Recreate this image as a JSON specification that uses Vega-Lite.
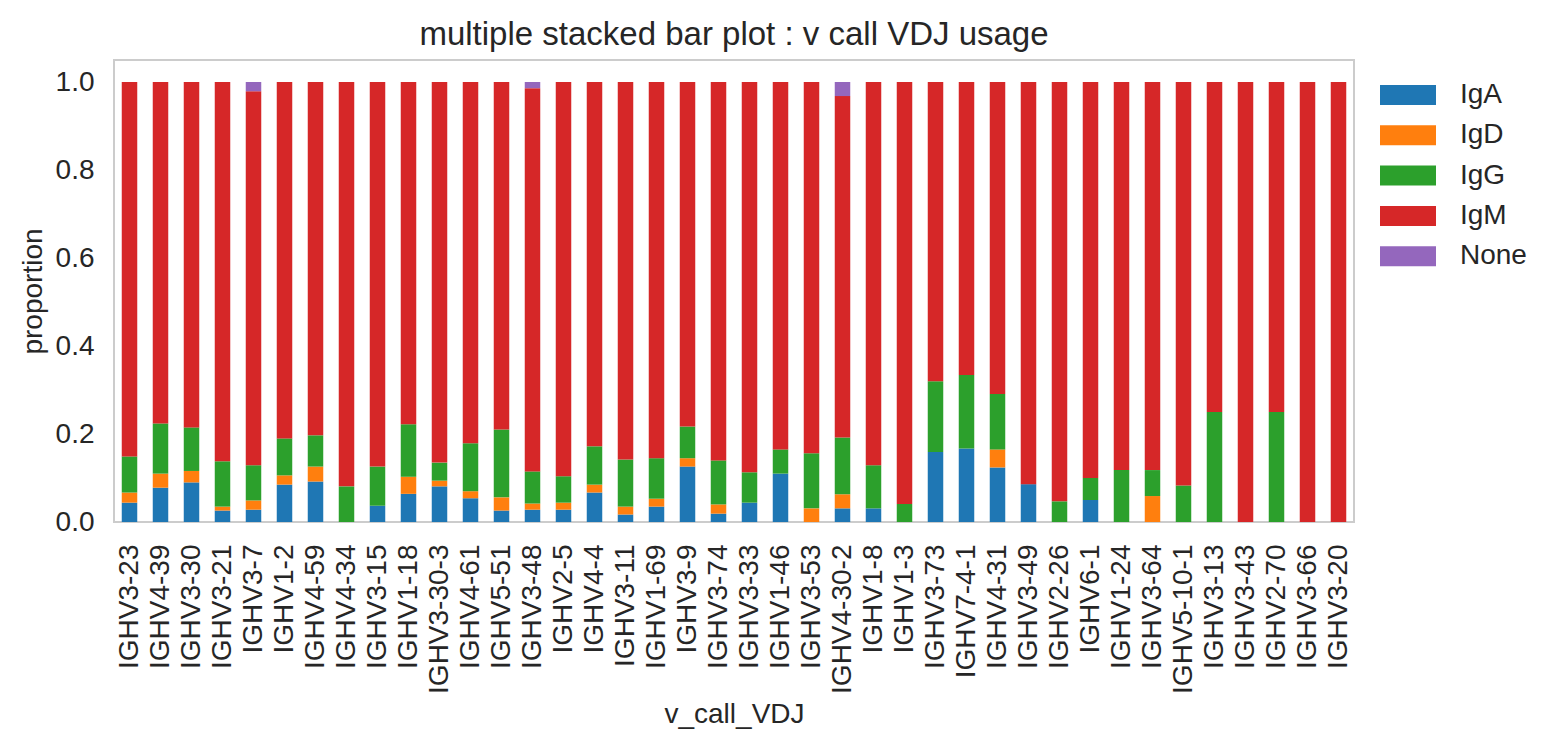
{
  "$schema": "https://vega.github.io/schema/vega-lite/v6.json",
  "width": 1240,
  "height": 462,
  "autosize": {"type": "none"},
  "padding": {"left": 114, "top": 60, "right": 201, "bottom": 225},
  "background": "white",
  "title": {
    "text": "multiple stacked bar plot : v call VDJ usage",
    "fontSize": 33,
    "font": "Liberation Sans",
    "fontWeight": "normal",
    "color": "#262626",
    "offset": 8,
    "anchor": "middle"
  },
  "config": {
    "font": "Liberation Sans",
    "view": {"stroke": "#cccccc", "strokeWidth": 2},
    "axis": {
      "labelFont": "Liberation Sans",
      "titleFont": "Liberation Sans",
      "labelColor": "#262626",
      "titleColor": "#262626",
      "labelFontSize": 28,
      "titleFontSize": 28,
      "titleFontWeight": "normal",
      "grid": false,
      "ticks": false,
      "domain": false
    },
    "legend": {
      "labelFont": "Liberation Sans",
      "labelFontSize": 28,
      "labelColor": "#262626"
    }
  },
  "data": {
    "values": [
      {"v_call_VDJ": "IGHV3-23", "isotype": "IgA", "proportion": 0.044},
      {"v_call_VDJ": "IGHV3-23", "isotype": "IgD", "proportion": 0.023},
      {"v_call_VDJ": "IGHV3-23", "isotype": "IgG", "proportion": 0.082},
      {"v_call_VDJ": "IGHV3-23", "isotype": "IgM", "proportion": 0.851},
      {"v_call_VDJ": "IGHV4-39", "isotype": "IgA", "proportion": 0.078},
      {"v_call_VDJ": "IGHV4-39", "isotype": "IgD", "proportion": 0.032},
      {"v_call_VDJ": "IGHV4-39", "isotype": "IgG", "proportion": 0.114},
      {"v_call_VDJ": "IGHV4-39", "isotype": "IgM", "proportion": 0.776},
      {"v_call_VDJ": "IGHV3-30", "isotype": "IgA", "proportion": 0.090},
      {"v_call_VDJ": "IGHV3-30", "isotype": "IgD", "proportion": 0.026},
      {"v_call_VDJ": "IGHV3-30", "isotype": "IgG", "proportion": 0.099},
      {"v_call_VDJ": "IGHV3-30", "isotype": "IgM", "proportion": 0.785},
      {"v_call_VDJ": "IGHV3-21", "isotype": "IgA", "proportion": 0.026},
      {"v_call_VDJ": "IGHV3-21", "isotype": "IgD", "proportion": 0.009},
      {"v_call_VDJ": "IGHV3-21", "isotype": "IgG", "proportion": 0.103},
      {"v_call_VDJ": "IGHV3-21", "isotype": "IgM", "proportion": 0.862},
      {"v_call_VDJ": "IGHV3-7", "isotype": "IgA", "proportion": 0.028},
      {"v_call_VDJ": "IGHV3-7", "isotype": "IgD", "proportion": 0.021},
      {"v_call_VDJ": "IGHV3-7", "isotype": "IgG", "proportion": 0.080},
      {"v_call_VDJ": "IGHV3-7", "isotype": "IgM", "proportion": 0.850},
      {"v_call_VDJ": "IGHV3-7", "isotype": "None", "proportion": 0.021},
      {"v_call_VDJ": "IGHV1-2", "isotype": "IgA", "proportion": 0.085},
      {"v_call_VDJ": "IGHV1-2", "isotype": "IgD", "proportion": 0.021},
      {"v_call_VDJ": "IGHV1-2", "isotype": "IgG", "proportion": 0.084},
      {"v_call_VDJ": "IGHV1-2", "isotype": "IgM", "proportion": 0.810},
      {"v_call_VDJ": "IGHV4-59", "isotype": "IgA", "proportion": 0.092},
      {"v_call_VDJ": "IGHV4-59", "isotype": "IgD", "proportion": 0.034},
      {"v_call_VDJ": "IGHV4-59", "isotype": "IgG", "proportion": 0.071},
      {"v_call_VDJ": "IGHV4-59", "isotype": "IgM", "proportion": 0.803},
      {"v_call_VDJ": "IGHV4-34", "isotype": "IgG", "proportion": 0.081},
      {"v_call_VDJ": "IGHV4-34", "isotype": "IgM", "proportion": 0.919},
      {"v_call_VDJ": "IGHV3-15", "isotype": "IgA", "proportion": 0.037},
      {"v_call_VDJ": "IGHV3-15", "isotype": "IgG", "proportion": 0.089},
      {"v_call_VDJ": "IGHV3-15", "isotype": "IgM", "proportion": 0.874},
      {"v_call_VDJ": "IGHV1-18", "isotype": "IgA", "proportion": 0.064},
      {"v_call_VDJ": "IGHV1-18", "isotype": "IgD", "proportion": 0.039},
      {"v_call_VDJ": "IGHV1-18", "isotype": "IgG", "proportion": 0.119},
      {"v_call_VDJ": "IGHV1-18", "isotype": "IgM", "proportion": 0.778},
      {"v_call_VDJ": "IGHV3-30-3", "isotype": "IgA", "proportion": 0.081},
      {"v_call_VDJ": "IGHV3-30-3", "isotype": "IgD", "proportion": 0.013},
      {"v_call_VDJ": "IGHV3-30-3", "isotype": "IgG", "proportion": 0.041},
      {"v_call_VDJ": "IGHV3-30-3", "isotype": "IgM", "proportion": 0.865},
      {"v_call_VDJ": "IGHV4-61", "isotype": "IgA", "proportion": 0.054},
      {"v_call_VDJ": "IGHV4-61", "isotype": "IgD", "proportion": 0.016},
      {"v_call_VDJ": "IGHV4-61", "isotype": "IgG", "proportion": 0.109},
      {"v_call_VDJ": "IGHV4-61", "isotype": "IgM", "proportion": 0.821},
      {"v_call_VDJ": "IGHV5-51", "isotype": "IgA", "proportion": 0.026},
      {"v_call_VDJ": "IGHV5-51", "isotype": "IgD", "proportion": 0.030},
      {"v_call_VDJ": "IGHV5-51", "isotype": "IgG", "proportion": 0.154},
      {"v_call_VDJ": "IGHV5-51", "isotype": "IgM", "proportion": 0.790},
      {"v_call_VDJ": "IGHV3-48", "isotype": "IgA", "proportion": 0.028},
      {"v_call_VDJ": "IGHV3-48", "isotype": "IgD", "proportion": 0.014},
      {"v_call_VDJ": "IGHV3-48", "isotype": "IgG", "proportion": 0.073},
      {"v_call_VDJ": "IGHV3-48", "isotype": "IgM", "proportion": 0.871},
      {"v_call_VDJ": "IGHV3-48", "isotype": "None", "proportion": 0.014},
      {"v_call_VDJ": "IGHV2-5", "isotype": "IgA", "proportion": 0.028},
      {"v_call_VDJ": "IGHV2-5", "isotype": "IgD", "proportion": 0.016},
      {"v_call_VDJ": "IGHV2-5", "isotype": "IgG", "proportion": 0.060},
      {"v_call_VDJ": "IGHV2-5", "isotype": "IgM", "proportion": 0.896},
      {"v_call_VDJ": "IGHV4-4", "isotype": "IgA", "proportion": 0.067},
      {"v_call_VDJ": "IGHV4-4", "isotype": "IgD", "proportion": 0.018},
      {"v_call_VDJ": "IGHV4-4", "isotype": "IgG", "proportion": 0.087},
      {"v_call_VDJ": "IGHV4-4", "isotype": "IgM", "proportion": 0.828},
      {"v_call_VDJ": "IGHV3-11", "isotype": "IgA", "proportion": 0.017},
      {"v_call_VDJ": "IGHV3-11", "isotype": "IgD", "proportion": 0.018},
      {"v_call_VDJ": "IGHV3-11", "isotype": "IgG", "proportion": 0.107},
      {"v_call_VDJ": "IGHV3-11", "isotype": "IgM", "proportion": 0.858},
      {"v_call_VDJ": "IGHV1-69", "isotype": "IgA", "proportion": 0.035},
      {"v_call_VDJ": "IGHV1-69", "isotype": "IgD", "proportion": 0.018},
      {"v_call_VDJ": "IGHV1-69", "isotype": "IgG", "proportion": 0.092},
      {"v_call_VDJ": "IGHV1-69", "isotype": "IgM", "proportion": 0.855},
      {"v_call_VDJ": "IGHV3-9", "isotype": "IgA", "proportion": 0.126},
      {"v_call_VDJ": "IGHV3-9", "isotype": "IgD", "proportion": 0.019},
      {"v_call_VDJ": "IGHV3-9", "isotype": "IgG", "proportion": 0.072},
      {"v_call_VDJ": "IGHV3-9", "isotype": "IgM", "proportion": 0.783},
      {"v_call_VDJ": "IGHV3-74", "isotype": "IgA", "proportion": 0.019},
      {"v_call_VDJ": "IGHV3-74", "isotype": "IgD", "proportion": 0.021},
      {"v_call_VDJ": "IGHV3-74", "isotype": "IgG", "proportion": 0.100},
      {"v_call_VDJ": "IGHV3-74", "isotype": "IgM", "proportion": 0.860},
      {"v_call_VDJ": "IGHV3-33", "isotype": "IgA", "proportion": 0.044},
      {"v_call_VDJ": "IGHV3-33", "isotype": "IgG", "proportion": 0.069},
      {"v_call_VDJ": "IGHV3-33", "isotype": "IgM", "proportion": 0.887},
      {"v_call_VDJ": "IGHV1-46", "isotype": "IgA", "proportion": 0.110},
      {"v_call_VDJ": "IGHV1-46", "isotype": "IgG", "proportion": 0.055},
      {"v_call_VDJ": "IGHV1-46", "isotype": "IgM", "proportion": 0.835},
      {"v_call_VDJ": "IGHV3-53", "isotype": "IgD", "proportion": 0.031},
      {"v_call_VDJ": "IGHV3-53", "isotype": "IgG", "proportion": 0.125},
      {"v_call_VDJ": "IGHV3-53", "isotype": "IgM", "proportion": 0.844},
      {"v_call_VDJ": "IGHV4-30-2", "isotype": "IgA", "proportion": 0.031},
      {"v_call_VDJ": "IGHV4-30-2", "isotype": "IgD", "proportion": 0.032},
      {"v_call_VDJ": "IGHV4-30-2", "isotype": "IgG", "proportion": 0.129},
      {"v_call_VDJ": "IGHV4-30-2", "isotype": "IgM", "proportion": 0.776},
      {"v_call_VDJ": "IGHV4-30-2", "isotype": "None", "proportion": 0.032},
      {"v_call_VDJ": "IGHV1-8", "isotype": "IgA", "proportion": 0.031},
      {"v_call_VDJ": "IGHV1-8", "isotype": "IgG", "proportion": 0.098},
      {"v_call_VDJ": "IGHV1-8", "isotype": "IgM", "proportion": 0.871},
      {"v_call_VDJ": "IGHV1-3", "isotype": "IgG", "proportion": 0.041},
      {"v_call_VDJ": "IGHV1-3", "isotype": "IgM", "proportion": 0.959},
      {"v_call_VDJ": "IGHV3-73", "isotype": "IgA", "proportion": 0.159},
      {"v_call_VDJ": "IGHV3-73", "isotype": "IgG", "proportion": 0.161},
      {"v_call_VDJ": "IGHV3-73", "isotype": "IgM", "proportion": 0.680},
      {"v_call_VDJ": "IGHV7-4-1", "isotype": "IgA", "proportion": 0.167},
      {"v_call_VDJ": "IGHV7-4-1", "isotype": "IgG", "proportion": 0.167},
      {"v_call_VDJ": "IGHV7-4-1", "isotype": "IgM", "proportion": 0.666},
      {"v_call_VDJ": "IGHV4-31", "isotype": "IgA", "proportion": 0.124},
      {"v_call_VDJ": "IGHV4-31", "isotype": "IgD", "proportion": 0.041},
      {"v_call_VDJ": "IGHV4-31", "isotype": "IgG", "proportion": 0.126},
      {"v_call_VDJ": "IGHV4-31", "isotype": "IgM", "proportion": 0.709},
      {"v_call_VDJ": "IGHV3-49", "isotype": "IgA", "proportion": 0.086},
      {"v_call_VDJ": "IGHV3-49", "isotype": "IgM", "proportion": 0.914},
      {"v_call_VDJ": "IGHV2-26", "isotype": "IgG", "proportion": 0.047},
      {"v_call_VDJ": "IGHV2-26", "isotype": "IgM", "proportion": 0.953},
      {"v_call_VDJ": "IGHV6-1", "isotype": "IgA", "proportion": 0.050},
      {"v_call_VDJ": "IGHV6-1", "isotype": "IgG", "proportion": 0.050},
      {"v_call_VDJ": "IGHV6-1", "isotype": "IgM", "proportion": 0.900},
      {"v_call_VDJ": "IGHV1-24", "isotype": "IgG", "proportion": 0.118},
      {"v_call_VDJ": "IGHV1-24", "isotype": "IgM", "proportion": 0.882},
      {"v_call_VDJ": "IGHV3-64", "isotype": "IgD", "proportion": 0.059},
      {"v_call_VDJ": "IGHV3-64", "isotype": "IgG", "proportion": 0.059},
      {"v_call_VDJ": "IGHV3-64", "isotype": "IgM", "proportion": 0.882},
      {"v_call_VDJ": "IGHV5-10-1", "isotype": "IgG", "proportion": 0.083},
      {"v_call_VDJ": "IGHV5-10-1", "isotype": "IgM", "proportion": 0.917},
      {"v_call_VDJ": "IGHV3-13", "isotype": "IgG", "proportion": 0.250},
      {"v_call_VDJ": "IGHV3-13", "isotype": "IgM", "proportion": 0.750},
      {"v_call_VDJ": "IGHV3-43", "isotype": "IgM", "proportion": 1.0},
      {"v_call_VDJ": "IGHV2-70", "isotype": "IgG", "proportion": 0.250},
      {"v_call_VDJ": "IGHV2-70", "isotype": "IgM", "proportion": 0.750},
      {"v_call_VDJ": "IGHV3-66", "isotype": "IgM", "proportion": 1.0},
      {"v_call_VDJ": "IGHV3-20", "isotype": "IgM", "proportion": 1.0}
    ]
  },
  "mark": {"type": "bar"},
  "encoding": {
    "x": {
      "field": "v_call_VDJ",
      "type": "nominal",
      "sort": null,
      "scale": {"paddingInner": 0.5, "paddingOuter": 0.25},
      "axis": {"labelAngle": -90, "labelPadding": 22, "titlePadding": 7, "title": "v_call_VDJ"}
    },
    "y": {
      "field": "proportion",
      "type": "quantitative",
      "stack": "zero",
      "scale": {"domain": [0, 1.05], "nice": false, "zero": true},
      "axis": {"values": [0, 0.2, 0.4, 0.6, 0.8, 1.0], "format": ".1f", "labelPadding": 20, "titlePadding": 8, "title": "proportion"}
    },
    "color": {
      "field": "isotype",
      "type": "nominal",
      "scale": {
        "domain": ["IgA", "IgD", "IgG", "IgM", "None"],
        "range": ["#1f77b4", "#ff7f0e", "#2ca02c", "#d62728", "#9467bd"]
      },
      "legend": {
        "title": null,
        "orient": "none",
        "legendX": 1280,
        "legendY": 21,
        "padding": 0,
        "symbolType": "M-2.8,-1H2.8V1H-2.8Z",
        "symbolSize": 400,
        "symbolStrokeWidth": 0,
        "labelOffset": 38,
        "rowPadding": 12.3
      }
    },
    "order": {"field": "isotype", "sort": "ascending"}
  }
}
